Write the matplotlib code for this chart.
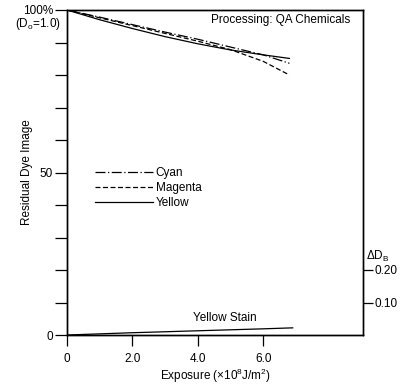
import matplotlib
matplotlib.use("Agg")
import matplotlib.pyplot as plt

plt.rcParams['font.family'] = ['Liberation Sans', 'DejaVu Sans']
plt.rcParams['mathtext.fontset'] = 'custom'
plt.rcParams['mathtext.rm'] = 'Liberation Sans'
plt.rcParams['mathtext.it'] = 'Liberation Sans'

# residual dye image (%) vs exposure (x10^8 J/m^2)
exposure = [0, 1, 2, 3, 4, 5, 6, 6.8]
cyan = [100, 97.8, 95.5, 93.2, 91.0, 88.6, 86.2, 83.6]
magenta = [100, 97.6, 95.2, 92.8, 90.4, 87.8, 84.2, 80.0]
yellow = [100, 97.0, 94.3, 91.8, 89.6, 87.7, 86.2, 85.1]

# yellow stain, delta D_B
stain_x = [0, 2, 4, 6, 6.9]
stain = [0, 0.007, 0.013, 0.019, 0.022]

xticks = [0, 2, 4, 6]
xticklabels = ["0", "2.0", "4.0", "6.0"]
yticklabels = {0: "0", 50: "50", 100: "100%"}
rticks = [0.10, 0.20]

fs = 8.5
fig = plt.figure(figsize=(4.06, 3.85), dpi=100)
ax = fig.add_axes([67/406, 1-335/385, 296/406, 325/385])

ax.plot(exposure, cyan, color='black', lw=0.9, dashes=(8, 2, 1, 2), label='Cyan')
ax.plot(exposure, magenta, color='black', lw=0.9, dashes=(4, 2), label='Magenta')
ax.plot(exposure, yellow, color='black', lw=0.9, label='Yellow')

ax.set_xlim(0, 9.05)
ax.set_ylim(0, 100)
ax.set_xticks(xticks)
ax.set_xticklabels(xticklabels, fontsize=fs)
ax.set_yticks(range(0, 101, 10))
ax.set_yticklabels([yticklabels.get(v, "") for v in range(0, 101, 10)], fontsize=fs)
ax.tick_params(axis='x', direction='out', length=8, width=0.9, pad=5)
ax.tick_params(axis='y', direction='out', length=9, width=0.9, pad=1)
for s in ax.spines.values():
    s.set_linewidth(1.0)

ax.text(-0.2, 95.6, r"(D$_{\rm o}$=1.0)", ha='right', va='center', fontsize=fs,
        transform=ax.transData, clip_on=False)

ax.set_xlabel(r"Exposure ($\times$10$^{8}$J/m$^{2}$)", fontsize=fs, labelpad=1)
ax.set_ylabel("Residual Dye Image", fontsize=fs)
ax.yaxis.set_label_coords(-0.115, 0.5)

ax.text(8.65, 96.9, "Processing: QA Chemicals", ha='right', va='center', fontsize=fs)

leg = ax.legend(loc='upper left', bbox_to_anchor=(0.08, 0.53), frameon=False,
                fontsize=fs, handlelength=4.9, handletextpad=0.2, labelspacing=0.25,
                borderaxespad=0)

# right axis for yellow stain
ax2 = ax.twinx()
ax2.set_ylim(0, 1.0)
ax2.plot(stain_x, stain, color='black', lw=0.9)
ax2.set_yticks(rticks)
ax2.set_yticklabels(["0.10", "0.20"], fontsize=fs)
ax2.tick_params(axis='y', direction='out', length=7, width=0.9, pad=1)
ax2.text(1.01, 0.242, r"$\Delta$D$_{\rm B}$", transform=ax2.get_yaxis_transform(),
         ha='left', va='center', fontsize=fs)
ax2.text(4.83, 0.052, "Yellow Stain", ha='center', va='center', fontsize=fs)
for s in ax2.spines.values():
    s.set_linewidth(1.0)

fig.savefig("out.png", dpi=100)
